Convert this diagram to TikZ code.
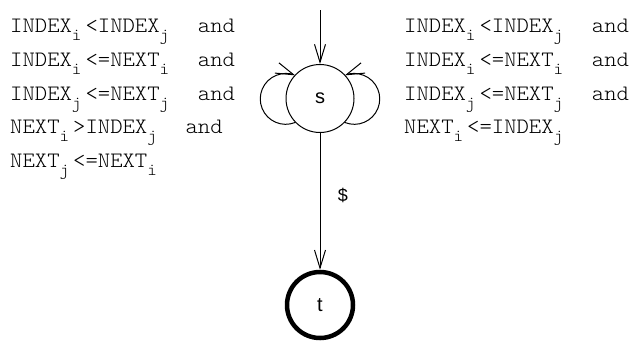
\documentclass[tikz,border=0pt]{standalone}
\usepackage{fontspec}
\setsansfont{Liberation Sans}
\newfontfamily\codefont{lmmonolt10-regular.otf}[FakeStretch=1.07]
\usepackage{tikz}
\usetikzlibrary{positioning, arrows.meta}

\newcommand\subsc[1]{\raisebox{-8pt}{\fontsize{17}{17}\selectfont#1}\hspace{4pt}}

\tikzset{
    state/.style={circle, draw, line width=1pt, inner sep=0pt, minimum size=68pt,
        font=\sffamily\fontsize{20}{20}\selectfont},
    final/.style={state, line width=4.5pt, minimum size=66pt},
    arr/.style={-{Straight Barb[length=18pt, width=11pt]}, line width=1pt},
    guard/.style={align=left, inner sep=0pt, font=\codefont\fontsize{22}{33.75}\selectfont}
}

\begin{document}
\begin{tikzpicture}[x=1pt, y=1pt]
    \useasboundingbox (0,0) rectangle (631,-341);

    % States
    \coordinate (start) at (320,-10);
    \node[state] (s) at (320,-98.5) {s};
    \node[final] (t) at (320,-305) {t};

    % Edges
    \draw[arr] (start) -- (s);
    \draw[arr] (s) -- node[right=14pt, pos=0.46, font=\sffamily\fontsize{18}{18}\selectfont] {\$} (t);
    \draw[arr] (s.224) arc[start angle=-68, end angle=-292, radius=25.4];
    \draw[arr] (s.-44) arc[start angle=-112, end angle=112, radius=25.4];

    % Loop conditions
    \node[guard, anchor=north west] (leftcond) at (10,-19) {%
        INDEX\subsc{i}<INDEX\subsc{j}\ \ and\\
        INDEX\subsc{i}<=NEXT\subsc{i}\ \ and\\
        INDEX\subsc{j}<=NEXT\subsc{j}\ \ and\\
        NEXT\subsc{i}>INDEX\subsc{j}\ \ and\\
        NEXT\subsc{j}<=NEXT\subsc{i}};
    \node[guard, anchor=north west] (rightcond) at (404,-19) {%
        INDEX\subsc{i}<INDEX\subsc{j}\ \ and\\
        INDEX\subsc{i}<=NEXT\subsc{i}\ \ and\\
        INDEX\subsc{j}<=NEXT\subsc{j}\ \ and\\
        NEXT\subsc{i}<=INDEX\subsc{j}};
\end{tikzpicture}
\end{document}
